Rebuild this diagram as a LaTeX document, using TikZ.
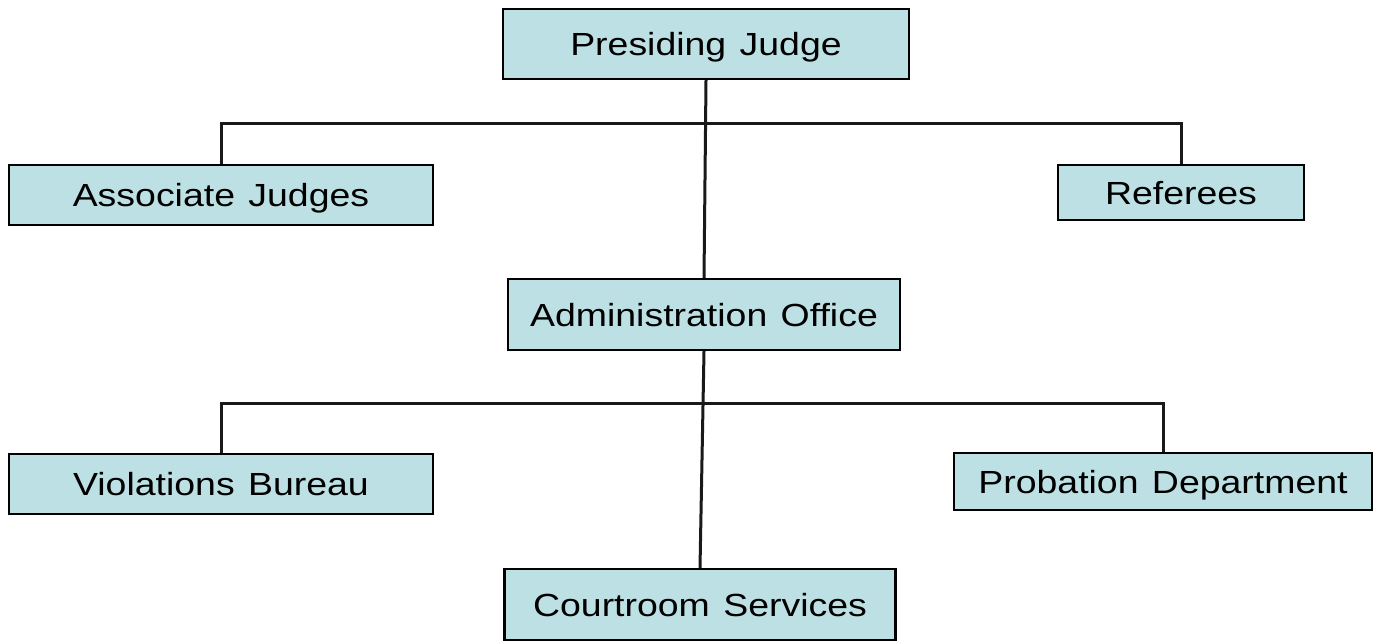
\documentclass[tikz,border=0pt]{standalone}
\usepackage{fontspec}
\setmainfont{Liberation Sans}[FakeStretch=1.17]
\usetikzlibrary{shadows}
\definecolor{boxfill}{HTML}{BCE0E3}
\tikzset{
  orgbox/.style={draw=black, fill=boxfill, line width=2.4pt, inner sep=0pt,
    text height=23pt, text depth=0pt, font=\fontsize{32}{36}\selectfont,
    drop shadow={shadow xshift=1.2pt, shadow yshift=-1.2pt, fill=black, opacity=1}},
  link/.style={line width=3pt, draw=black!90}
}
\begin{document}
\begin{tikzpicture}[x=1pt,y=-1pt]
\useasboundingbox (0,0) rectangle (1381,643);
\node[orgbox, minimum width=406pt, minimum height=70pt] (pj) at (706,44) {Presiding\hspace{3pt} Judge};
\node[orgbox, minimum width=424pt, minimum height=60pt] (aj) at (221,195) {Associate\hspace{3pt} Judges};
\node[orgbox, minimum width=246pt, minimum height=55pt] (ref) at (1181,192.5) {Referees};
\node[orgbox, minimum width=392pt, minimum height=71pt] (ao) at (704,314.5) {Administration\hspace{3pt} Office};
\node[orgbox, minimum width=424pt, minimum height=60pt] (vb) at (221,484) {Violations\hspace{3pt} Bureau};
\node[orgbox, minimum width=418pt, minimum height=57pt] (pd) at (1163,481.5) {Probation\hspace{3pt} Department};
\node[orgbox, minimum width=391pt, minimum height=71pt] (cs) at (700,604.5) {Courtroom\hspace{3pt} Services};
\coordinate (bus1) at (706,123);
\coordinate (bus2) at (705,403);
\draw[link] (aj.north) |- (bus1) -| (ref.north);
\draw[link] (pj.south) -- (ao.north);
\draw[link] (vb.north) |- (bus2) -| (pd.north);
\draw[link] (ao.south) -- (cs.north);
\end{tikzpicture}
\end{document}
